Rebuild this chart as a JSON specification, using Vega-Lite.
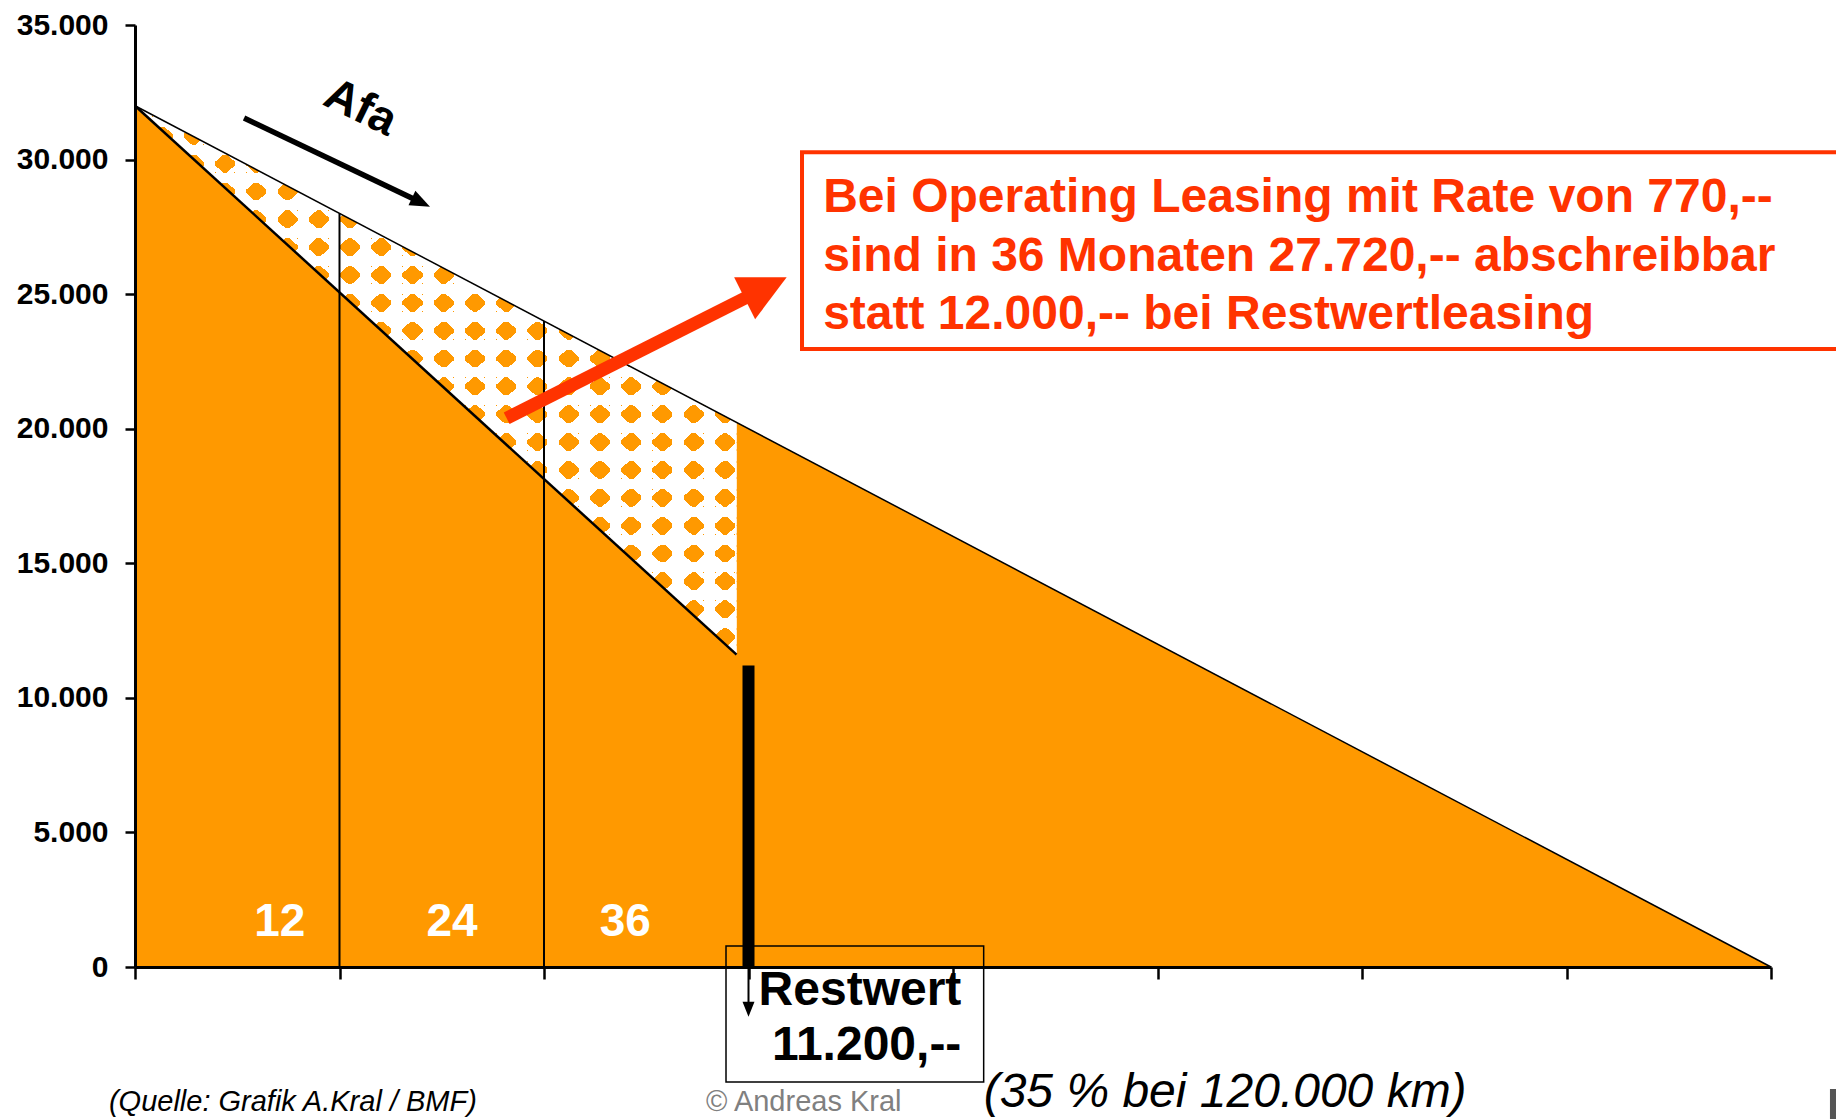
{
  "$schema": "https://vega.github.io/schema/vega-lite/v6.json",
  "width": 1636,
  "height": 942,
  "autosize": {"type": "none"},
  "padding": {"left": 135, "top": 25, "right": 65, "bottom": 152},
  "background": "white",
  "config": {"view": {"stroke": null}, "font": "Liberation Sans", "text": {"font": "Liberation Sans"}},
  "data": {"values": [{}]},
  "datasets": {
    "buchwert": [{"monat": 0, "wert": 32000}, {"monat": 96, "wert": 0}],
    "schraffur": [{"monat": 0, "oben": 32000, "unten": 32000}, {"monat": 35.3, "oben": 20233, "unten": 11604}],
    "grenzen": [{"monat": 12, "wert": 28000}, {"monat": 24, "wert": 24000}],
    "restwert": [{"monat": 36, "wert": 11200}]
  },
  "layer": [
    {
      "data": {"name": "buchwert"},
      "mark": {"type": "area", "color": "#FF9900", "opacity": 1},
      "encoding": {
        "x": {"field": "monat", "type": "quantitative", "scale": {"domain": [0, 96], "nice": false, "zero": false},
          "axis": {"values": [0, 12, 24, 36, 48, 60, 72, 84, 96], "labels": false, "ticks": true, "tickSize": 12, "tickWidth": 2.5, "tickColor": "black", "domainColor": "black", "domainWidth": 3, "grid": false, "title": null, "zindex": 1}},
        "y": {"field": "wert", "type": "quantitative", "scale": {"domain": [0, 35000], "nice": false},
          "axis": {"values": [0, 5000, 10000, 15000, 20000, 25000, 30000, 35000], "labelExpr": "replace(format(datum.value, ','), ',', '.')", "labelFont": "Liberation Sans", "labelFontSize": 30, "labelFontWeight": "bold", "labelColor": "black", "labelPadding": 17, "tickSize": 10, "tickWidth": 2.5, "tickColor": "black", "domainColor": "black", "domainWidth": 3, "grid": false, "title": null, "zindex": 1}}
      }
    },
    {
      "data": {"name": "schraffur"},
      "mark": {"type": "area", "opacity": 1, "color": {"gradient": "linear", "x1": 0, "y1": 0, "x2": 1, "y2": 0, "stops": [
        {"offset": 0, "color": "rgba(255,255,255,0)"}, {"offset": 0.01039, "color": "rgba(255,255,255,0)"}, {"offset": 0.01039, "color": "#ffffff"},
        {"offset": 0.02909, "color": "#ffffff"}, {"offset": 0.02909, "color": "rgba(255,255,255,0)"}, {"offset": 0.06234, "color": "rgba(255,255,255,0)"}, {"offset": 0.06234, "color": "#ffffff"},
        {"offset": 0.08103, "color": "#ffffff"}, {"offset": 0.08103, "color": "rgba(255,255,255,0)"}, {"offset": 0.11429, "color": "rgba(255,255,255,0)"}, {"offset": 0.11429, "color": "#ffffff"},
        {"offset": 0.13298, "color": "#ffffff"}, {"offset": 0.13298, "color": "rgba(255,255,255,0)"}, {"offset": 0.16623, "color": "rgba(255,255,255,0)"}, {"offset": 0.16623, "color": "#ffffff"},
        {"offset": 0.18493, "color": "#ffffff"}, {"offset": 0.18493, "color": "rgba(255,255,255,0)"}, {"offset": 0.21818, "color": "rgba(255,255,255,0)"}, {"offset": 0.21818, "color": "#ffffff"},
        {"offset": 0.23688, "color": "#ffffff"}, {"offset": 0.23688, "color": "rgba(255,255,255,0)"}, {"offset": 0.27013, "color": "rgba(255,255,255,0)"}, {"offset": 0.27013, "color": "#ffffff"},
        {"offset": 0.28882, "color": "#ffffff"}, {"offset": 0.28882, "color": "rgba(255,255,255,0)"}, {"offset": 0.32207, "color": "rgba(255,255,255,0)"}, {"offset": 0.32207, "color": "#ffffff"},
        {"offset": 0.34077, "color": "#ffffff"}, {"offset": 0.34077, "color": "rgba(255,255,255,0)"}, {"offset": 0.37402, "color": "rgba(255,255,255,0)"}, {"offset": 0.37402, "color": "#ffffff"},
        {"offset": 0.39272, "color": "#ffffff"}, {"offset": 0.39272, "color": "rgba(255,255,255,0)"}, {"offset": 0.42597, "color": "rgba(255,255,255,0)"}, {"offset": 0.42597, "color": "#ffffff"},
        {"offset": 0.44466, "color": "#ffffff"}, {"offset": 0.44466, "color": "rgba(255,255,255,0)"}, {"offset": 0.47792, "color": "rgba(255,255,255,0)"}, {"offset": 0.47792, "color": "#ffffff"},
        {"offset": 0.49661, "color": "#ffffff"}, {"offset": 0.49661, "color": "rgba(255,255,255,0)"}, {"offset": 0.52986, "color": "rgba(255,255,255,0)"}, {"offset": 0.52986, "color": "#ffffff"},
        {"offset": 0.54856, "color": "#ffffff"}, {"offset": 0.54856, "color": "rgba(255,255,255,0)"}, {"offset": 0.58181, "color": "rgba(255,255,255,0)"}, {"offset": 0.58181, "color": "#ffffff"},
        {"offset": 0.60050, "color": "#ffffff"}, {"offset": 0.60050, "color": "rgba(255,255,255,0)"}, {"offset": 0.63376, "color": "rgba(255,255,255,0)"}, {"offset": 0.63376, "color": "#ffffff"},
        {"offset": 0.65245, "color": "#ffffff"}, {"offset": 0.65245, "color": "rgba(255,255,255,0)"}, {"offset": 0.68570, "color": "rgba(255,255,255,0)"}, {"offset": 0.68570, "color": "#ffffff"},
        {"offset": 0.70440, "color": "#ffffff"}, {"offset": 0.70440, "color": "rgba(255,255,255,0)"}, {"offset": 0.73765, "color": "rgba(255,255,255,0)"}, {"offset": 0.73765, "color": "#ffffff"},
        {"offset": 0.75635, "color": "#ffffff"}, {"offset": 0.75635, "color": "rgba(255,255,255,0)"}, {"offset": 0.78960, "color": "rgba(255,255,255,0)"}, {"offset": 0.78960, "color": "#ffffff"},
        {"offset": 0.80829, "color": "#ffffff"}, {"offset": 0.80829, "color": "rgba(255,255,255,0)"}, {"offset": 0.84154, "color": "rgba(255,255,255,0)"}, {"offset": 0.84154, "color": "#ffffff"},
        {"offset": 0.86024, "color": "#ffffff"}, {"offset": 0.86024, "color": "rgba(255,255,255,0)"}, {"offset": 0.89349, "color": "rgba(255,255,255,0)"}, {"offset": 0.89349, "color": "#ffffff"},
        {"offset": 0.91219, "color": "#ffffff"}, {"offset": 0.91219, "color": "rgba(255,255,255,0)"}, {"offset": 0.94544, "color": "rgba(255,255,255,0)"}, {"offset": 0.94544, "color": "#ffffff"},
        {"offset": 0.96413, "color": "#ffffff"}, {"offset": 0.96413, "color": "rgba(255,255,255,0)"}, {"offset": 0.99739, "color": "rgba(255,255,255,0)"}, {"offset": 0.99739, "color": "#ffffff"},
        {"offset": 1, "color": "#ffffff"}
      ]}},
      "encoding": {"x": {"field": "monat", "type": "quantitative"}, "y": {"field": "oben", "type": "quantitative"}, "y2": {"field": "unten"}}
    },
    {
      "data": {"name": "schraffur"},
      "mark": {"type": "area", "opacity": 1, "color": {"gradient": "linear", "x1": 0, "y1": 0, "x2": 0, "y2": 1, "stops": [
        {"offset": 0, "color": "rgba(255,255,255,0)"}, {"offset": 0.02017, "color": "rgba(255,255,255,0)"}, {"offset": 0.02017, "color": "#ffffff"},
        {"offset": 0.03844, "color": "#ffffff"}, {"offset": 0.03844, "color": "rgba(255,255,255,0)"}, {"offset": 0.07090, "color": "rgba(255,255,255,0)"}, {"offset": 0.07090, "color": "#ffffff"},
        {"offset": 0.08917, "color": "#ffffff"}, {"offset": 0.08917, "color": "rgba(255,255,255,0)"}, {"offset": 0.12163, "color": "rgba(255,255,255,0)"}, {"offset": 0.12163, "color": "#ffffff"},
        {"offset": 0.13990, "color": "#ffffff"}, {"offset": 0.13990, "color": "rgba(255,255,255,0)"}, {"offset": 0.17236, "color": "rgba(255,255,255,0)"}, {"offset": 0.17236, "color": "#ffffff"},
        {"offset": 0.19064, "color": "#ffffff"}, {"offset": 0.19064, "color": "rgba(255,255,255,0)"}, {"offset": 0.22310, "color": "rgba(255,255,255,0)"}, {"offset": 0.22310, "color": "#ffffff"},
        {"offset": 0.24137, "color": "#ffffff"}, {"offset": 0.24137, "color": "rgba(255,255,255,0)"}, {"offset": 0.27383, "color": "rgba(255,255,255,0)"}, {"offset": 0.27383, "color": "#ffffff"},
        {"offset": 0.29210, "color": "#ffffff"}, {"offset": 0.29210, "color": "rgba(255,255,255,0)"}, {"offset": 0.32456, "color": "rgba(255,255,255,0)"}, {"offset": 0.32456, "color": "#ffffff"},
        {"offset": 0.34284, "color": "#ffffff"}, {"offset": 0.34284, "color": "rgba(255,255,255,0)"}, {"offset": 0.37530, "color": "rgba(255,255,255,0)"}, {"offset": 0.37530, "color": "#ffffff"},
        {"offset": 0.39357, "color": "#ffffff"}, {"offset": 0.39357, "color": "rgba(255,255,255,0)"}, {"offset": 0.42603, "color": "rgba(255,255,255,0)"}, {"offset": 0.42603, "color": "#ffffff"},
        {"offset": 0.44430, "color": "#ffffff"}, {"offset": 0.44430, "color": "rgba(255,255,255,0)"}, {"offset": 0.47676, "color": "rgba(255,255,255,0)"}, {"offset": 0.47676, "color": "#ffffff"},
        {"offset": 0.49503, "color": "#ffffff"}, {"offset": 0.49503, "color": "rgba(255,255,255,0)"}, {"offset": 0.52750, "color": "rgba(255,255,255,0)"}, {"offset": 0.52750, "color": "#ffffff"},
        {"offset": 0.54577, "color": "#ffffff"}, {"offset": 0.54577, "color": "rgba(255,255,255,0)"}, {"offset": 0.57823, "color": "rgba(255,255,255,0)"}, {"offset": 0.57823, "color": "#ffffff"},
        {"offset": 0.59650, "color": "#ffffff"}, {"offset": 0.59650, "color": "rgba(255,255,255,0)"}, {"offset": 0.62896, "color": "rgba(255,255,255,0)"}, {"offset": 0.62896, "color": "#ffffff"},
        {"offset": 0.64723, "color": "#ffffff"}, {"offset": 0.64723, "color": "rgba(255,255,255,0)"}, {"offset": 0.67970, "color": "rgba(255,255,255,0)"}, {"offset": 0.67970, "color": "#ffffff"},
        {"offset": 0.69797, "color": "#ffffff"}, {"offset": 0.69797, "color": "rgba(255,255,255,0)"}, {"offset": 0.73043, "color": "rgba(255,255,255,0)"}, {"offset": 0.73043, "color": "#ffffff"},
        {"offset": 0.74870, "color": "#ffffff"}, {"offset": 0.74870, "color": "rgba(255,255,255,0)"}, {"offset": 0.78116, "color": "rgba(255,255,255,0)"}, {"offset": 0.78116, "color": "#ffffff"},
        {"offset": 0.79943, "color": "#ffffff"}, {"offset": 0.79943, "color": "rgba(255,255,255,0)"}, {"offset": 0.83189, "color": "rgba(255,255,255,0)"}, {"offset": 0.83189, "color": "#ffffff"},
        {"offset": 0.85017, "color": "#ffffff"}, {"offset": 0.85017, "color": "rgba(255,255,255,0)"}, {"offset": 0.88263, "color": "rgba(255,255,255,0)"}, {"offset": 0.88263, "color": "#ffffff"},
        {"offset": 0.90090, "color": "#ffffff"}, {"offset": 0.90090, "color": "rgba(255,255,255,0)"}, {"offset": 0.93336, "color": "rgba(255,255,255,0)"}, {"offset": 0.93336, "color": "#ffffff"},
        {"offset": 0.95163, "color": "#ffffff"}, {"offset": 0.95163, "color": "rgba(255,255,255,0)"}, {"offset": 0.98409, "color": "rgba(255,255,255,0)"}, {"offset": 0.98409, "color": "#ffffff"},
        {"offset": 1, "color": "#ffffff"}
      ]}},
      "encoding": {"x": {"field": "monat", "type": "quantitative"}, "y": {"field": "oben", "type": "quantitative"}, "y2": {"field": "unten"}}
    },
    {
      "data": {"name": "schraffur"},
      "mark": {"type": "area", "opacity": 1, "color": {"gradient": "linear", "x1": 0, "y1": 0, "x2": 0.98804, "y2": 1.01169, "stops": [
        {"offset": 0, "color": "rgba(255,255,255,0)"}, {"offset": 0.00875, "color": "rgba(255,255,255,0)"}, {"offset": 0.00875, "color": "#ffffff"},
        {"offset": 0.01474, "color": "#ffffff"}, {"offset": 0.01474, "color": "rgba(255,255,255,0)"}, {"offset": 0.03442, "color": "rgba(255,255,255,0)"}, {"offset": 0.03442, "color": "#ffffff"},
        {"offset": 0.04041, "color": "#ffffff"}, {"offset": 0.04041, "color": "rgba(255,255,255,0)"}, {"offset": 0.06008, "color": "rgba(255,255,255,0)"}, {"offset": 0.06008, "color": "#ffffff"},
        {"offset": 0.06607, "color": "#ffffff"}, {"offset": 0.06607, "color": "rgba(255,255,255,0)"}, {"offset": 0.08575, "color": "rgba(255,255,255,0)"}, {"offset": 0.08575, "color": "#ffffff"},
        {"offset": 0.09174, "color": "#ffffff"}, {"offset": 0.09174, "color": "rgba(255,255,255,0)"}, {"offset": 0.11142, "color": "rgba(255,255,255,0)"}, {"offset": 0.11142, "color": "#ffffff"},
        {"offset": 0.11741, "color": "#ffffff"}, {"offset": 0.11741, "color": "rgba(255,255,255,0)"}, {"offset": 0.13708, "color": "rgba(255,255,255,0)"}, {"offset": 0.13708, "color": "#ffffff"},
        {"offset": 0.14307, "color": "#ffffff"}, {"offset": 0.14307, "color": "rgba(255,255,255,0)"}, {"offset": 0.16275, "color": "rgba(255,255,255,0)"}, {"offset": 0.16275, "color": "#ffffff"},
        {"offset": 0.16874, "color": "#ffffff"}, {"offset": 0.16874, "color": "rgba(255,255,255,0)"}, {"offset": 0.18842, "color": "rgba(255,255,255,0)"}, {"offset": 0.18842, "color": "#ffffff"},
        {"offset": 0.19441, "color": "#ffffff"}, {"offset": 0.19441, "color": "rgba(255,255,255,0)"}, {"offset": 0.21408, "color": "rgba(255,255,255,0)"}, {"offset": 0.21408, "color": "#ffffff"},
        {"offset": 0.22007, "color": "#ffffff"}, {"offset": 0.22007, "color": "rgba(255,255,255,0)"}, {"offset": 0.23975, "color": "rgba(255,255,255,0)"}, {"offset": 0.23975, "color": "#ffffff"},
        {"offset": 0.24574, "color": "#ffffff"}, {"offset": 0.24574, "color": "rgba(255,255,255,0)"}, {"offset": 0.26542, "color": "rgba(255,255,255,0)"}, {"offset": 0.26542, "color": "#ffffff"},
        {"offset": 0.27141, "color": "#ffffff"}, {"offset": 0.27141, "color": "rgba(255,255,255,0)"}, {"offset": 0.29108, "color": "rgba(255,255,255,0)"}, {"offset": 0.29108, "color": "#ffffff"},
        {"offset": 0.29707, "color": "#ffffff"}, {"offset": 0.29707, "color": "rgba(255,255,255,0)"}, {"offset": 0.31675, "color": "rgba(255,255,255,0)"}, {"offset": 0.31675, "color": "#ffffff"},
        {"offset": 0.32274, "color": "#ffffff"}, {"offset": 0.32274, "color": "rgba(255,255,255,0)"}, {"offset": 0.34242, "color": "rgba(255,255,255,0)"}, {"offset": 0.34242, "color": "#ffffff"},
        {"offset": 0.34841, "color": "#ffffff"}, {"offset": 0.34841, "color": "rgba(255,255,255,0)"}, {"offset": 0.36808, "color": "rgba(255,255,255,0)"}, {"offset": 0.36808, "color": "#ffffff"},
        {"offset": 0.37407, "color": "#ffffff"}, {"offset": 0.37407, "color": "rgba(255,255,255,0)"}, {"offset": 0.39375, "color": "rgba(255,255,255,0)"}, {"offset": 0.39375, "color": "#ffffff"},
        {"offset": 0.39974, "color": "#ffffff"}, {"offset": 0.39974, "color": "rgba(255,255,255,0)"}, {"offset": 0.41942, "color": "rgba(255,255,255,0)"}, {"offset": 0.41942, "color": "#ffffff"},
        {"offset": 0.42541, "color": "#ffffff"}, {"offset": 0.42541, "color": "rgba(255,255,255,0)"}, {"offset": 0.44508, "color": "rgba(255,255,255,0)"}, {"offset": 0.44508, "color": "#ffffff"},
        {"offset": 0.45107, "color": "#ffffff"}, {"offset": 0.45107, "color": "rgba(255,255,255,0)"}, {"offset": 0.47075, "color": "rgba(255,255,255,0)"}, {"offset": 0.47075, "color": "#ffffff"},
        {"offset": 0.47674, "color": "#ffffff"}, {"offset": 0.47674, "color": "rgba(255,255,255,0)"}, {"offset": 0.49642, "color": "rgba(255,255,255,0)"}, {"offset": 0.49642, "color": "#ffffff"},
        {"offset": 0.50241, "color": "#ffffff"}, {"offset": 0.50241, "color": "rgba(255,255,255,0)"}, {"offset": 0.52208, "color": "rgba(255,255,255,0)"}, {"offset": 0.52208, "color": "#ffffff"},
        {"offset": 0.52807, "color": "#ffffff"}, {"offset": 0.52807, "color": "rgba(255,255,255,0)"}, {"offset": 0.54775, "color": "rgba(255,255,255,0)"}, {"offset": 0.54775, "color": "#ffffff"},
        {"offset": 0.55374, "color": "#ffffff"}, {"offset": 0.55374, "color": "rgba(255,255,255,0)"}, {"offset": 0.57342, "color": "rgba(255,255,255,0)"}, {"offset": 0.57342, "color": "#ffffff"},
        {"offset": 0.57941, "color": "#ffffff"}, {"offset": 0.57941, "color": "rgba(255,255,255,0)"}, {"offset": 0.59908, "color": "rgba(255,255,255,0)"}, {"offset": 0.59908, "color": "#ffffff"},
        {"offset": 0.60507, "color": "#ffffff"}, {"offset": 0.60507, "color": "rgba(255,255,255,0)"}, {"offset": 0.62475, "color": "rgba(255,255,255,0)"}, {"offset": 0.62475, "color": "#ffffff"},
        {"offset": 0.63074, "color": "#ffffff"}, {"offset": 0.63074, "color": "rgba(255,255,255,0)"}, {"offset": 0.65042, "color": "rgba(255,255,255,0)"}, {"offset": 0.65042, "color": "#ffffff"},
        {"offset": 0.65641, "color": "#ffffff"}, {"offset": 0.65641, "color": "rgba(255,255,255,0)"}, {"offset": 0.67608, "color": "rgba(255,255,255,0)"}, {"offset": 0.67608, "color": "#ffffff"},
        {"offset": 0.68207, "color": "#ffffff"}, {"offset": 0.68207, "color": "rgba(255,255,255,0)"}, {"offset": 0.70175, "color": "rgba(255,255,255,0)"}, {"offset": 0.70175, "color": "#ffffff"},
        {"offset": 0.70774, "color": "#ffffff"}, {"offset": 0.70774, "color": "rgba(255,255,255,0)"}, {"offset": 0.72742, "color": "rgba(255,255,255,0)"}, {"offset": 0.72742, "color": "#ffffff"},
        {"offset": 0.73341, "color": "#ffffff"}, {"offset": 0.73341, "color": "rgba(255,255,255,0)"}, {"offset": 0.75308, "color": "rgba(255,255,255,0)"}, {"offset": 0.75308, "color": "#ffffff"},
        {"offset": 0.75907, "color": "#ffffff"}, {"offset": 0.75907, "color": "rgba(255,255,255,0)"}, {"offset": 0.77875, "color": "rgba(255,255,255,0)"}, {"offset": 0.77875, "color": "#ffffff"},
        {"offset": 0.78474, "color": "#ffffff"}, {"offset": 0.78474, "color": "rgba(255,255,255,0)"}, {"offset": 0.80442, "color": "rgba(255,255,255,0)"}, {"offset": 0.80442, "color": "#ffffff"},
        {"offset": 0.81041, "color": "#ffffff"}, {"offset": 0.81041, "color": "rgba(255,255,255,0)"}, {"offset": 0.83008, "color": "rgba(255,255,255,0)"}, {"offset": 0.83008, "color": "#ffffff"},
        {"offset": 0.83607, "color": "#ffffff"}, {"offset": 0.83607, "color": "rgba(255,255,255,0)"}, {"offset": 0.85575, "color": "rgba(255,255,255,0)"}, {"offset": 0.85575, "color": "#ffffff"},
        {"offset": 0.86174, "color": "#ffffff"}, {"offset": 0.86174, "color": "rgba(255,255,255,0)"}, {"offset": 0.88142, "color": "rgba(255,255,255,0)"}, {"offset": 0.88142, "color": "#ffffff"},
        {"offset": 0.88741, "color": "#ffffff"}, {"offset": 0.88741, "color": "rgba(255,255,255,0)"}, {"offset": 0.90708, "color": "rgba(255,255,255,0)"}, {"offset": 0.90708, "color": "#ffffff"},
        {"offset": 0.91307, "color": "#ffffff"}, {"offset": 0.91307, "color": "rgba(255,255,255,0)"}, {"offset": 0.93275, "color": "rgba(255,255,255,0)"}, {"offset": 0.93275, "color": "#ffffff"},
        {"offset": 0.93874, "color": "#ffffff"}, {"offset": 0.93874, "color": "rgba(255,255,255,0)"}, {"offset": 0.95842, "color": "rgba(255,255,255,0)"}, {"offset": 0.95842, "color": "#ffffff"},
        {"offset": 0.96441, "color": "#ffffff"}, {"offset": 0.96441, "color": "rgba(255,255,255,0)"}, {"offset": 0.98408, "color": "rgba(255,255,255,0)"}, {"offset": 0.98408, "color": "#ffffff"},
        {"offset": 0.99007, "color": "#ffffff"}, {"offset": 0.99007, "color": "rgba(255,255,255,0)"}, {"offset": 1, "color": "rgba(255,255,255,0)"}
      ]}},
      "encoding": {"x": {"field": "monat", "type": "quantitative"}, "y": {"field": "oben", "type": "quantitative"}, "y2": {"field": "unten"}}
    },
    {
      "data": {"name": "schraffur"},
      "mark": {"type": "area", "opacity": 1, "color": {"gradient": "linear", "x1": 0, "y1": 1, "x2": 0.98804, "y2": -0.01169, "stops": [
        {"offset": 0, "color": "#ffffff"},
        {"offset": 0.46535, "color": "#ffffff"}, {"offset": 0.46535, "color": "rgba(255,255,255,0)"}, {"offset": 0.48502, "color": "rgba(255,255,255,0)"}, {"offset": 0.48502, "color": "#ffffff"},
        {"offset": 0.49101, "color": "#ffffff"}, {"offset": 0.49101, "color": "rgba(255,255,255,0)"}, {"offset": 0.51068, "color": "rgba(255,255,255,0)"}, {"offset": 0.51068, "color": "#ffffff"},
        {"offset": 0.51668, "color": "#ffffff"}, {"offset": 0.51668, "color": "rgba(255,255,255,0)"}, {"offset": 0.53635, "color": "rgba(255,255,255,0)"}, {"offset": 0.53635, "color": "#ffffff"},
        {"offset": 0.54234, "color": "#ffffff"}, {"offset": 0.54234, "color": "rgba(255,255,255,0)"}, {"offset": 0.56201, "color": "rgba(255,255,255,0)"}, {"offset": 0.56201, "color": "#ffffff"},
        {"offset": 0.56801, "color": "#ffffff"}, {"offset": 0.56801, "color": "rgba(255,255,255,0)"}, {"offset": 0.58768, "color": "rgba(255,255,255,0)"}, {"offset": 0.58768, "color": "#ffffff"},
        {"offset": 0.59368, "color": "#ffffff"}, {"offset": 0.59368, "color": "rgba(255,255,255,0)"}, {"offset": 0.61335, "color": "rgba(255,255,255,0)"}, {"offset": 0.61335, "color": "#ffffff"},
        {"offset": 0.61934, "color": "#ffffff"}, {"offset": 0.61934, "color": "rgba(255,255,255,0)"}, {"offset": 0.63901, "color": "rgba(255,255,255,0)"}, {"offset": 0.63901, "color": "#ffffff"},
        {"offset": 0.64501, "color": "#ffffff"}, {"offset": 0.64501, "color": "rgba(255,255,255,0)"}, {"offset": 0.66468, "color": "rgba(255,255,255,0)"}, {"offset": 0.66468, "color": "#ffffff"},
        {"offset": 0.67068, "color": "#ffffff"}, {"offset": 0.67068, "color": "rgba(255,255,255,0)"}, {"offset": 0.69035, "color": "rgba(255,255,255,0)"}, {"offset": 0.69035, "color": "#ffffff"},
        {"offset": 0.69634, "color": "#ffffff"}, {"offset": 0.69634, "color": "rgba(255,255,255,0)"}, {"offset": 0.71601, "color": "rgba(255,255,255,0)"}, {"offset": 0.71601, "color": "#ffffff"},
        {"offset": 0.72201, "color": "#ffffff"}, {"offset": 0.72201, "color": "rgba(255,255,255,0)"}, {"offset": 0.74168, "color": "rgba(255,255,255,0)"}, {"offset": 0.74168, "color": "#ffffff"},
        {"offset": 1, "color": "#ffffff"}
      ]}},
      "encoding": {"x": {"field": "monat", "type": "quantitative"}, "y": {"field": "oben", "type": "quantitative"}, "y2": {"field": "unten"}}
    },
    {
      "data": {"name": "schraffur"},
      "mark": {"type": "line", "color": "black", "strokeWidth": 2.5},
      "encoding": {"x": {"field": "monat", "type": "quantitative"}, "y": {"field": "unten", "type": "quantitative"}}
    },
    {
      "data": {"name": "buchwert"},
      "mark": {"type": "line", "color": "black", "strokeWidth": 1.5},
      "encoding": {"x": {"field": "monat", "type": "quantitative"}, "y": {"field": "wert", "type": "quantitative"}}
    },
    {
      "data": {"name": "grenzen"},
      "mark": {"type": "rule", "color": "black", "strokeWidth": 2},
      "encoding": {"x": {"field": "monat", "type": "quantitative"}, "y": {"field": "wert", "type": "quantitative"}, "y2": {"datum": 0}}
    },
    {
      "data": {"name": "restwert"},
      "mark": {"type": "rule", "color": "black", "strokeWidth": 12, "strokeCap": "butt"},
      "encoding": {"x": {"field": "monat", "type": "quantitative"}, "y": {"field": "wert", "type": "quantitative"}, "y2": {"datum": 0}}
    },
    {
      "mark": {"type": "rule", "color": "black", "strokeWidth": 2},
      "encoding": {"x": {"datum": 36}, "y": {"datum": 0}, "y2": {"datum": -1300}}
    },
    {
      "mark": {"type": "point", "shape": "M0,0L-1,-0.4L-1,0.4Z", "filled": true, "color": "black", "opacity": 1, "size": 900, "angle": 90, "strokeWidth": 0},
      "encoding": {"x": {"datum": 36}, "y": {"datum": -1847}}
    },
    {
      "mark": {"type": "rule", "color": "black", "strokeWidth": 5.5, "strokeCap": "butt"},
      "encoding": {"x": {"datum": 6.4}, "y": {"datum": 31544}, "x2": {"datum": 16.36}, "y2": {"datum": 28535}}
    },
    {
      "mark": {"type": "point", "shape": "M0,0L-1,-0.4L-1,0.4Z", "filled": true, "color": "black", "opacity": 1, "size": 1600, "angle": 25.5, "strokeWidth": 0},
      "encoding": {"x": {"datum": 17.31}, "y": {"datum": 28249}}
    },
    {
      "mark": {"type": "text", "text": "Afa", "font": "Liberation Sans", "fontSize": 46, "fontWeight": "bold", "angle": 26, "align": "center", "baseline": "middle", "color": "black"},
      "encoding": {"x": {"datum": 13.24}, "y": {"datum": 31927}}
    },
    {
      "mark": {"type": "rule", "color": "#FF3300", "strokeWidth": 13, "strokeCap": "butt"},
      "encoding": {"x": {"datum": 21.81}, "y": {"datum": 20387}, "x2": {"datum": 36.1}, "y2": {"datum": 24950}}
    },
    {
      "mark": {"type": "point", "shape": "M0,0L-1,-0.5L-1,0.5Z", "filled": true, "color": "#FF3300", "opacity": 1, "size": 8836, "angle": -26.5, "strokeWidth": 0},
      "encoding": {"x": {"datum": 38.24}, "y": {"datum": 25626}}
    },
    {
      "mark": {"type": "rect", "fill": "transparent", "stroke": "#FF3300", "strokeWidth": 4},
      "encoding": {"x": {"datum": 39.14}, "x2": {"datum": 100.6}, "y": {"datum": 30274}, "y2": {"datum": 22962}}
    },
    {
      "mark": {"type": "text", "text": ["Bei Operating Leasing mit Rate von 770,--", "sind in 36 Monaten 27.720,-- abschreibbar", "statt 12.000,-- bei Restwertleasing"], "font": "Liberation Sans", "fontSize": 48, "fontWeight": "bold", "color": "#FF3300", "align": "left", "baseline": "alphabetic", "lineHeight": 58.5},
      "encoding": {"x": {"datum": 40.38}, "y": {"datum": 28052}}
    },
    {
      "mark": {"type": "rect", "fill": "transparent", "stroke": "black", "strokeWidth": 1.5},
      "encoding": {"x": {"datum": 34.68}, "x2": {"datum": 49.8}, "y": {"datum": 777}, "y2": {"datum": -4269}}
    },
    {
      "mark": {"type": "text", "text": ["Restwert", "11.200,--"], "font": "Liberation Sans", "fontSize": 48, "fontWeight": "bold", "color": "black", "align": "right", "baseline": "alphabetic", "lineHeight": 55},
      "encoding": {"x": {"datum": 48.49}, "y": {"datum": -1397}}
    },
    {
      "mark": {"type": "text", "text": "(35 % bei 120.000 km)", "font": "Liberation Sans", "fontSize": 48, "fontStyle": "italic", "color": "black", "align": "left", "baseline": "alphabetic"},
      "encoding": {"x": {"datum": 49.8}, "y": {"datum": -5202}}
    },
    {
      "mark": {"type": "text", "text": "© Andreas Kral", "font": "Liberation Sans", "fontSize": 29, "color": "#808080", "align": "left", "baseline": "alphabetic"},
      "encoding": {"x": {"datum": 33.51}, "y": {"datum": -5350}}
    },
    {
      "mark": {"type": "text", "text": "(Quelle: Grafik A.Kral / BMF)", "font": "Liberation Sans", "fontSize": 29, "fontStyle": "italic", "color": "black", "align": "left", "baseline": "alphabetic"},
      "encoding": {"x": {"datum": -1.53}, "y": {"datum": -5350}}
    },
    {
      "mark": {"type": "text", "text": "12", "font": "Liberation Sans", "fontSize": 46, "fontWeight": "bold", "color": "white", "align": "center", "baseline": "alphabetic"},
      "encoding": {"x": {"datum": 8.5}, "y": {"datum": 1150}}
    },
    {
      "mark": {"type": "text", "text": "24", "font": "Liberation Sans", "fontSize": 46, "fontWeight": "bold", "color": "white", "align": "center", "baseline": "alphabetic"},
      "encoding": {"x": {"datum": 18.6}, "y": {"datum": 1150}}
    },
    {
      "mark": {"type": "text", "text": "36", "font": "Liberation Sans", "fontSize": 46, "fontWeight": "bold", "color": "white", "align": "center", "baseline": "alphabetic"},
      "encoding": {"x": {"datum": 28.77}, "y": {"datum": 1150}}
    },
    {
      "mark": {"type": "rect", "color": "#555555"},
      "encoding": {"x": {"datum": 99.46}, "x2": {"datum": 101}, "y": {"datum": -4533}, "y2": {"datum": -6000}}
    }
  ]
}
